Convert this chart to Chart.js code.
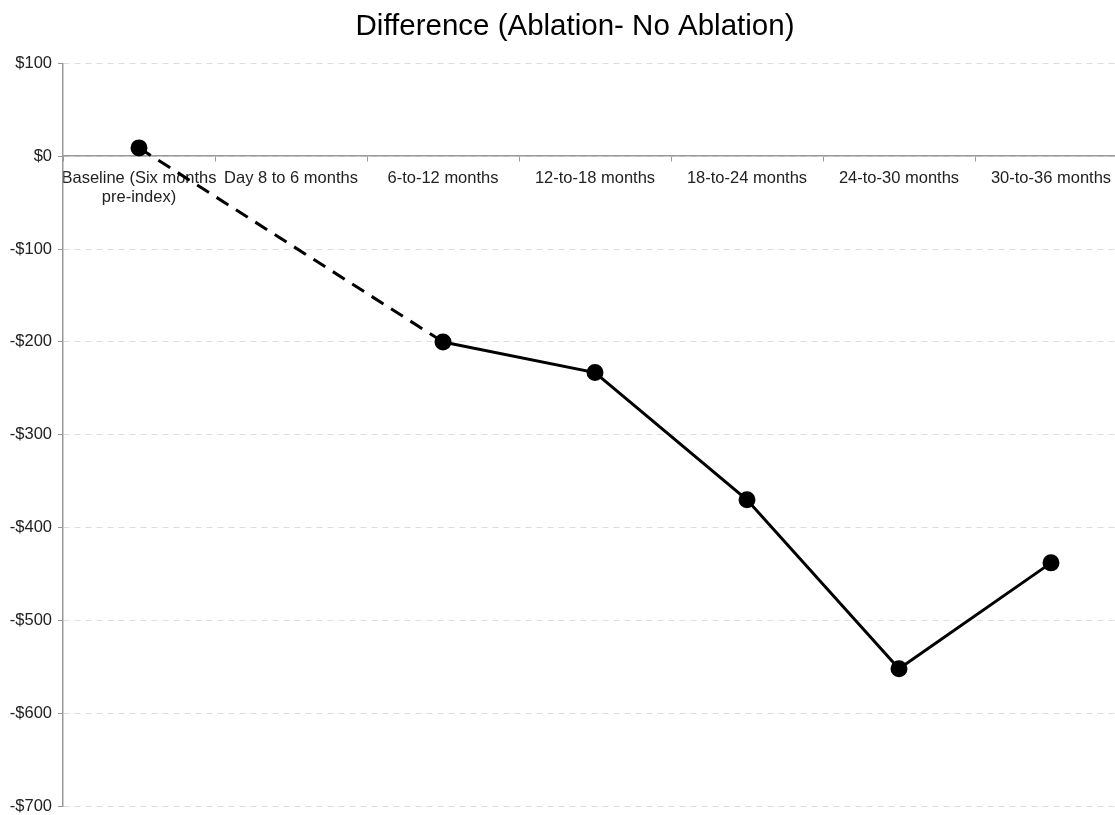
<!DOCTYPE html>
<html>
<head>
<meta charset="utf-8">
<script src="https://cdn.jsdelivr.net/npm/chart.js@4/dist/chart.umd.min.js"></script>
<style>
  html, body { margin: 0; padding: 0; background: #fff; overflow: hidden; }
  #wrap { width: 1150px; height: 822px; }
</style>
</head>
<body>
<div id="wrap"><canvas id="diffChart"></canvas></div>
<script>
  // Cost difference per period, ablation minus no ablation (USD)
  const periods = [
    ['Baseline (Six months', 'pre-index)'],
    'Day 8 to 6 months',
    '6-to-12 months',
    '12-to-18 months',
    '18-to-24 months',
    '24-to-30 months',
    '30-to-36 months'
  ];
  const difference = [9, null, -200, -233, -370, -552, -438];
  const yTicks = { min: -700, max: 100, step: 100 };

  const money = v => (v < 0 ? '-$' : '$') + Math.abs(v);

  // let the y labels spill into the left page margin instead of being clipped
  const widenYLabels = {
    id: 'widenYLabels',
    afterLayout(chart) {
      chart.scales.y.left = 0;
    }
  };

  Chart.defaults.font.family = '"Liberation Sans", Arial, sans-serif';
  Chart.defaults.color = '#333';

  new Chart(document.getElementById('diffChart'), {
    type: 'line',
    data: {
      labels: periods,
      datasets: [{
        label: 'Difference',
        data: difference,
        borderColor: '#000',
        backgroundColor: '#000',
        borderWidth: 3,
        pointRadius: 7,
        pointHoverRadius: 7,
        pointBackgroundColor: '#000',
        pointBorderColor: '#000',
        spanGaps: true,
        tension: 0,
        // dashed where the line bridges the missing period
        segment: {
          borderDash: ctx => (ctx.p0.skip || ctx.p1.skip ? [14, 9] : undefined)
        }
      }]
    },
    plugins: [widenYLabels],
    options: {
      responsive: true,
      maintainAspectRatio: false,
      animation: false,
      layout: { padding: { left: 23, right: 23, top: 0, bottom: 1 } },
      plugins: {
        legend: { display: false },
        tooltip: { enabled: false },
        title: {
          display: true,
          text: 'Difference (Ablation- No Ablation)',
          color: '#000',
          font: { size: 29.5, weight: 'normal' },
          padding: { top: 9, bottom: 19 }
        }
      },
      scales: {
        x: {
          type: 'category',
          position: { y: 0 },
          offset: true,
          grid: {
            offset: true,
            drawOnChartArea: false,
            drawTicks: true,
            tickLength: 5,
            tickColor: '#999'
          },
          border: { color: '#999', width: 1.5 },
          ticks: {
            autoSkip: false,
            maxRotation: 0,
            minRotation: 0,
            padding: 7,
            color: '#222',
            font: { size: 16.5 }
          }
        },
        y: {
          min: yTicks.min,
          max: yTicks.max,
          afterFit: s => { s.width = 40; },
          grid: {
            color: '#ddd',
            tickBorderDash: [],
            tickColor: '#999',
            tickLength: 5
          },
          border: { color: '#999', width: 1.5, dash: [6, 5] },
          ticks: {
            stepSize: yTicks.step,
            padding: 6,
            color: '#222',
            font: { size: 16.5 },
            callback: v => money(v)
          }
        }
      }
    }
  });
</script>
</body>
</html>
